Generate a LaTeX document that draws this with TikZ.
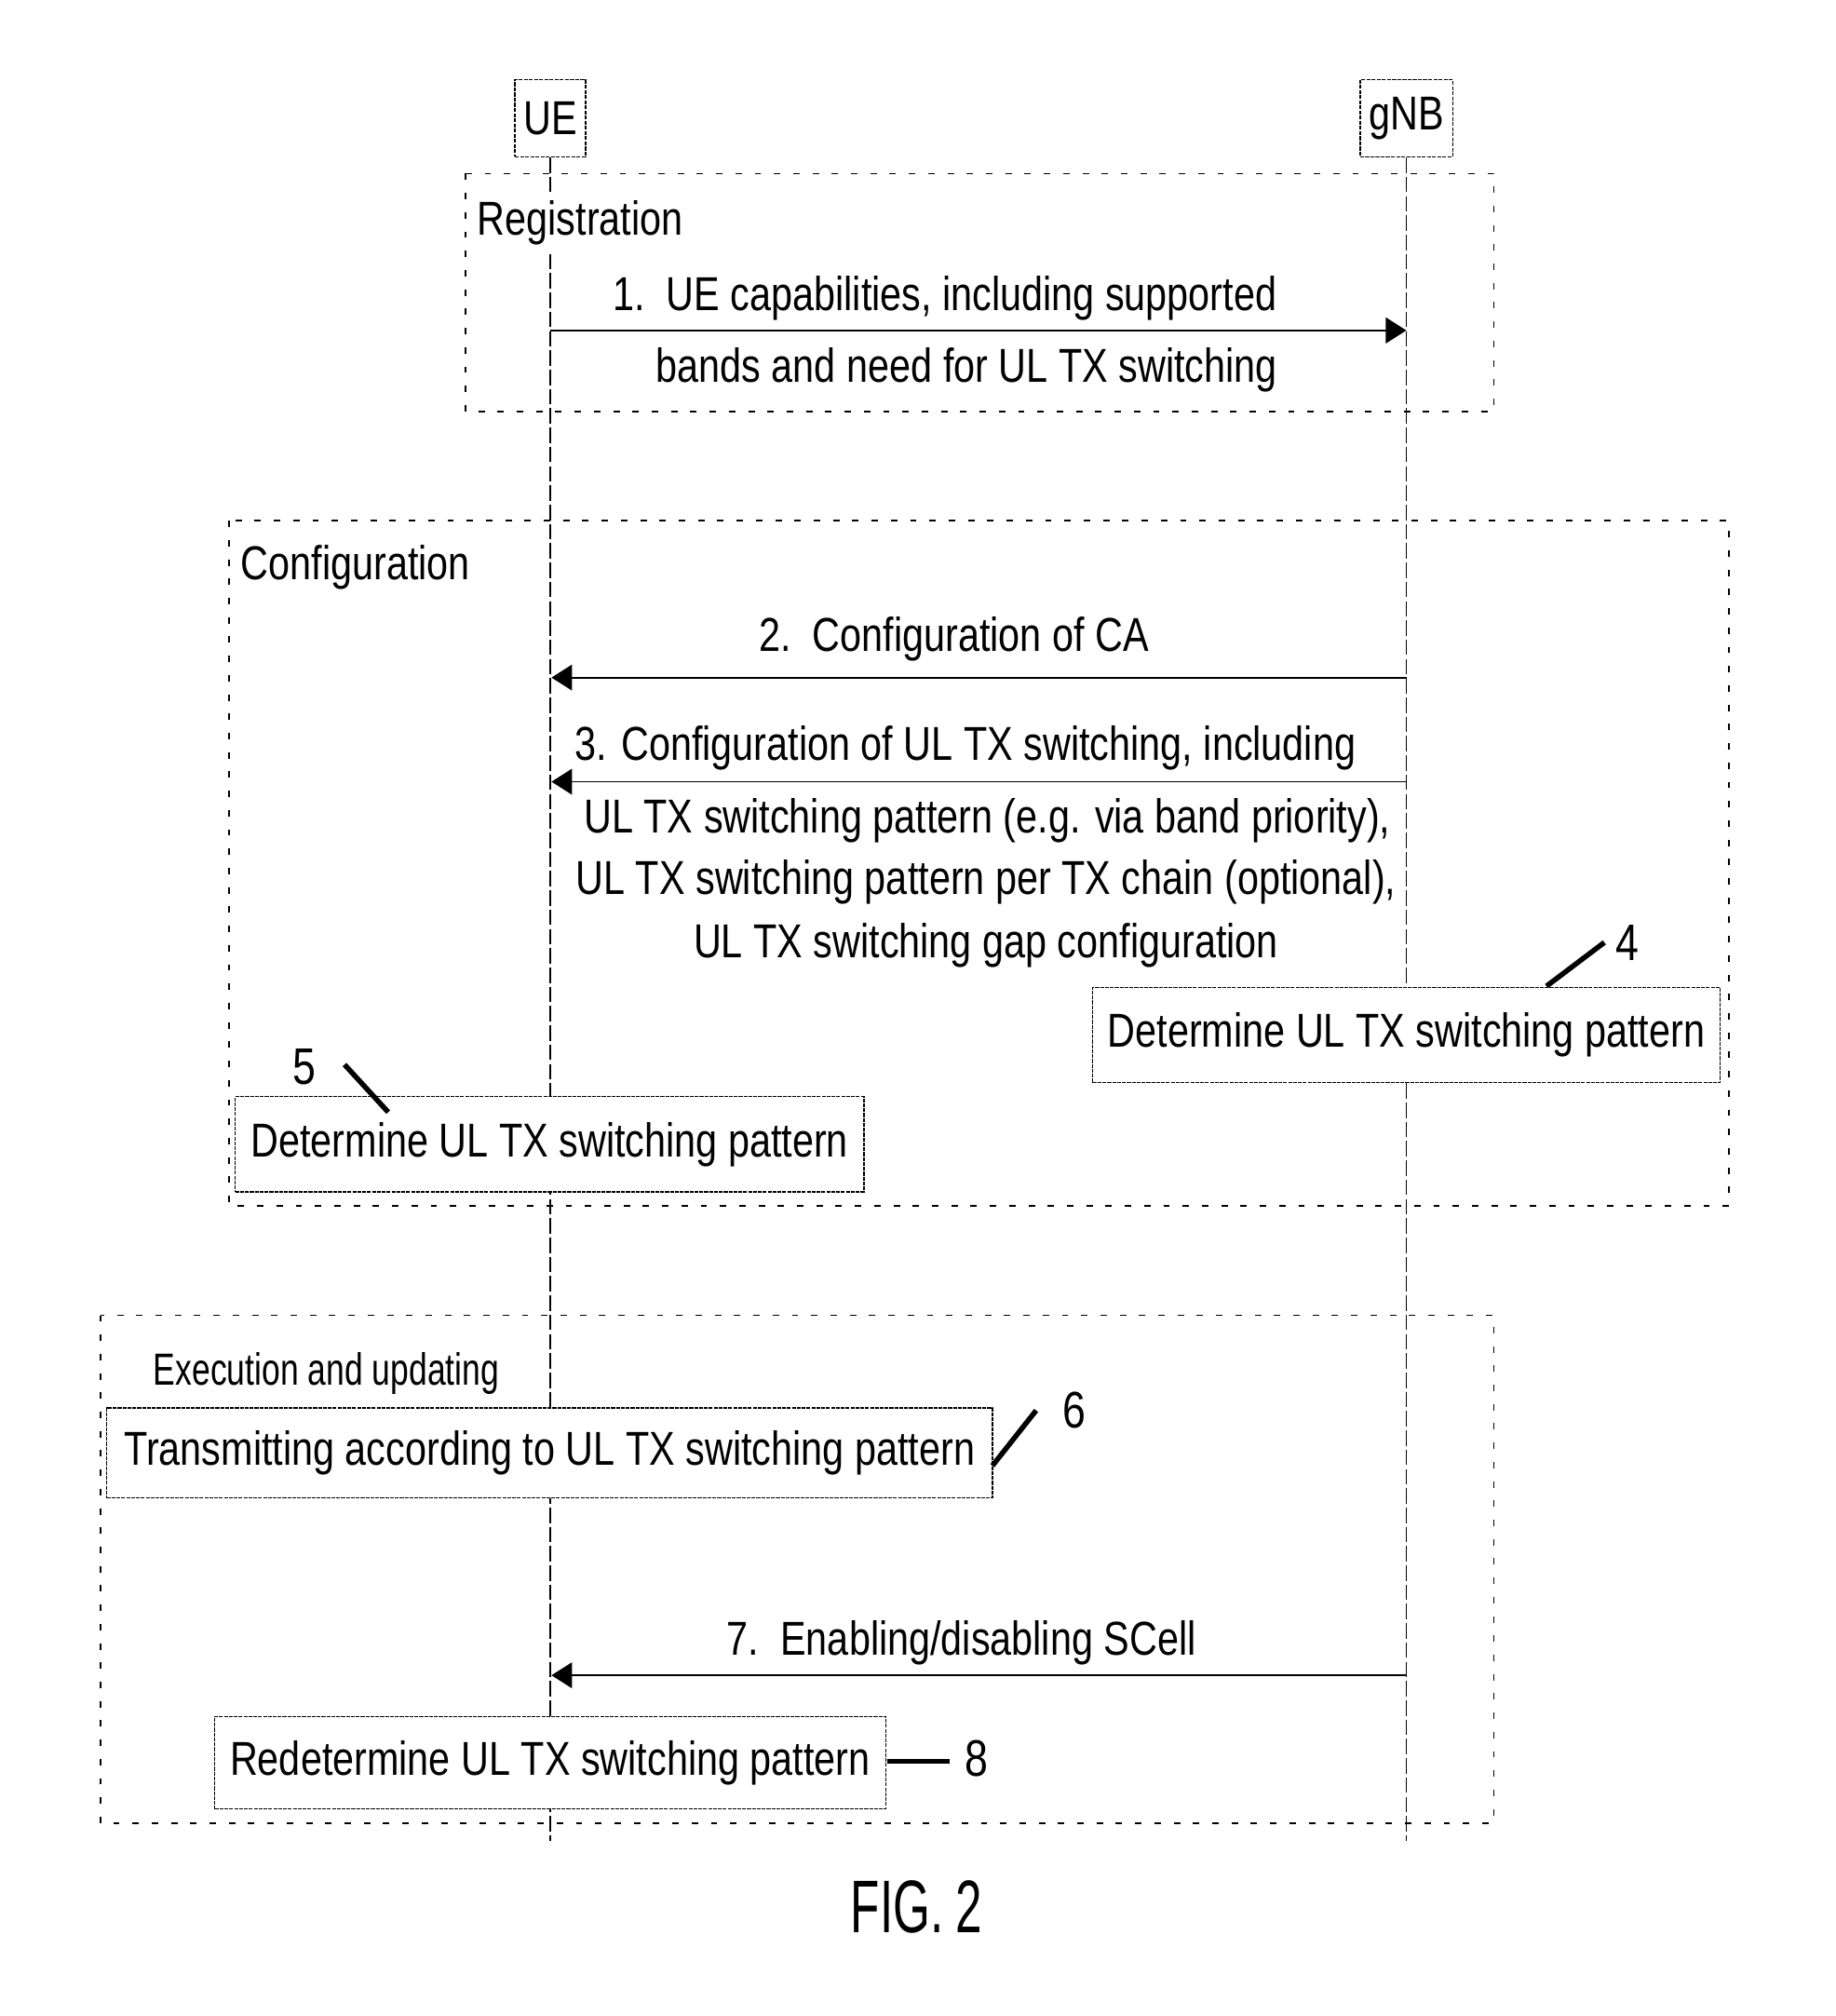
\documentclass[tikz,border=0pt]{standalone}
\usepackage{fontspec}
\setmainfont{Liberation Sans}[FakeStretch=0.81]
\newfontfamily\narrowfont{Liberation Sans}[FakeStretch=0.735]
\newfontfamily\capfont{Liberation Sans}[FakeStretch=0.64]
\usetikzlibrary{arrows.meta}
\begin{document}
\begin{tikzpicture}[x=0.5pt,y=-0.5pt,
  every node/.style={font=\fontsize{18.5}{22}\selectfont, inner sep=0pt},
  actor/.style={draw, line width=0.5pt, dash pattern=on 1.5pt off 0.5pt,
    minimum height=30pt, inner xsep=2.5pt},
  lifeline/.style={line width=0.5pt, dash pattern=on 6pt off 1.5pt},
  frame/.style={line width=0.6pt, dash pattern=on 2.5pt off 5pt},
  msg/.style={line width=0.7pt, -{Triangle[length=8pt,width=10pt]}},
  stepbox/.style={draw, fill=white, line width=0.5pt, dash pattern=on 1.5pt off 0.4pt},
  leader/.style={line width=2pt},
  refnum/.style={font=\fontsize{20}{24}\selectfont},
  title/.style={anchor=west, fill=white, inner ysep=3pt, inner xsep=1pt}]

\useasboundingbox (0,0) rectangle (1428,1568);

% participants and lifelines
\node[actor, minimum width=27.5pt] (ue)  at (428,92)  {UE};
\node[actor, minimum width=36pt] (gnb) at (1094,92) {gNB};
\coordinate (ueEnd)  at (428,1432);
\coordinate (gnbEnd) at (1094,1432);
\draw[lifeline] (ue.south) -- (ueEnd);
\draw[lifeline] (gnb.south) -- (gnbEnd);

% phase frames
\draw[frame] (362,135) rectangle (1162,320);
\node[title] (regT) at (369,173) {Registration};
\draw[frame] (178,405) rectangle (1345,938);
\node[title] (cfgT) at (185,441) {Configuration};
\draw[frame] (78,1023) rectangle (1162,1418);
\node[title, font=\narrowfont\fontsize{17.5}{21}\selectfont] (exeT) at (117,1068) {Execution and updating};

% message anchor points on the lifelines
\coordinate (m1a) at (428,257);  \coordinate (m1b) at (1094,257);
\coordinate (m2a) at (429,527);  \coordinate (m2b) at (1094,527);
\coordinate (m3a) at (429,608);  \coordinate (m3b) at (1094,608);
\coordinate (m7a) at (429,1303); \coordinate (m7b) at (1094,1303);

% 1. capabilities
\draw[msg] (m1a) -- (m1b);
\node (l1a) at (735,232) {1.\ \ UE capabilities, including supported};
\node (l1b) at (752,288) {bands and need for UL TX switching};

% 2. CA configuration
\draw[msg] (m2b) -- (m2a);
\node (l2) at (742,497) {2.\ \ Configuration of CA};

% 3. UL TX switching configuration
\draw[msg] (m3b) -- (m3a);
\node (l3a) at (751,582) {3. Configuration of UL TX switching, including};
\node (l3b) at (768,638) {UL TX switching pattern (e.g. via band priority),};
\node (l3c) at (767,686) {UL TX switching pattern per TX chain (optional),};
\node (l3d) at (767,735) {UL TX switching gap configuration};

% 4. gNB determines pattern
\node[stepbox, minimum width=244pt, minimum height=37pt] (s4) at (1094,805) {Determine UL TX switching pattern};
\node[refnum] (n4) at (1266,733) {4};
\coordinate (c4a) at (1203,767); \coordinate (c4b) at (1248,733);
\draw[leader] (c4a) -- (c4b);

% 5. UE determines pattern
\node[stepbox, minimum width=244.5pt, minimum height=37pt] (s5) at (427.5,890) {Determine UL TX switching pattern};
\node[refnum] (n5) at (237,830) {5};
\coordinate (c5a) at (268,828); \coordinate (c5b) at (302,865);
\draw[leader] (c5a) -- (c5b);

% 6. transmission
\node[stepbox, minimum width=344.5pt, minimum height=35pt] (s6) at (427.5,1130) {Transmitting according to UL TX switching pattern};
\node[refnum] (n6) at (836,1097) {6};
\coordinate (c6a) at (772,1140); \coordinate (c6b) at (806,1097);
\draw[leader] (c6a) -- (c6b);

% 7. SCell change
\draw[msg] (m7b) -- (m7a);
\node (l7) at (748,1278) {7.\ \ Enabling/disabling SCell};

% 8. UE redetermines pattern
\node[stepbox, minimum width=261pt, minimum height=36pt] (s8) at (428,1371) {Redetermine UL TX switching pattern};
\node[refnum] (n8) at (760,1368) {8};
\coordinate (c8a) at (690,1370); \coordinate (c8b) at (739,1370);
\draw[leader] (c8a) -- (c8b);

% figure caption
\node[font=\capfont\fontsize{29}{34}\selectfont] (fig) at (713,1483) {FIG.\,2};
\end{tikzpicture}
\end{document}
